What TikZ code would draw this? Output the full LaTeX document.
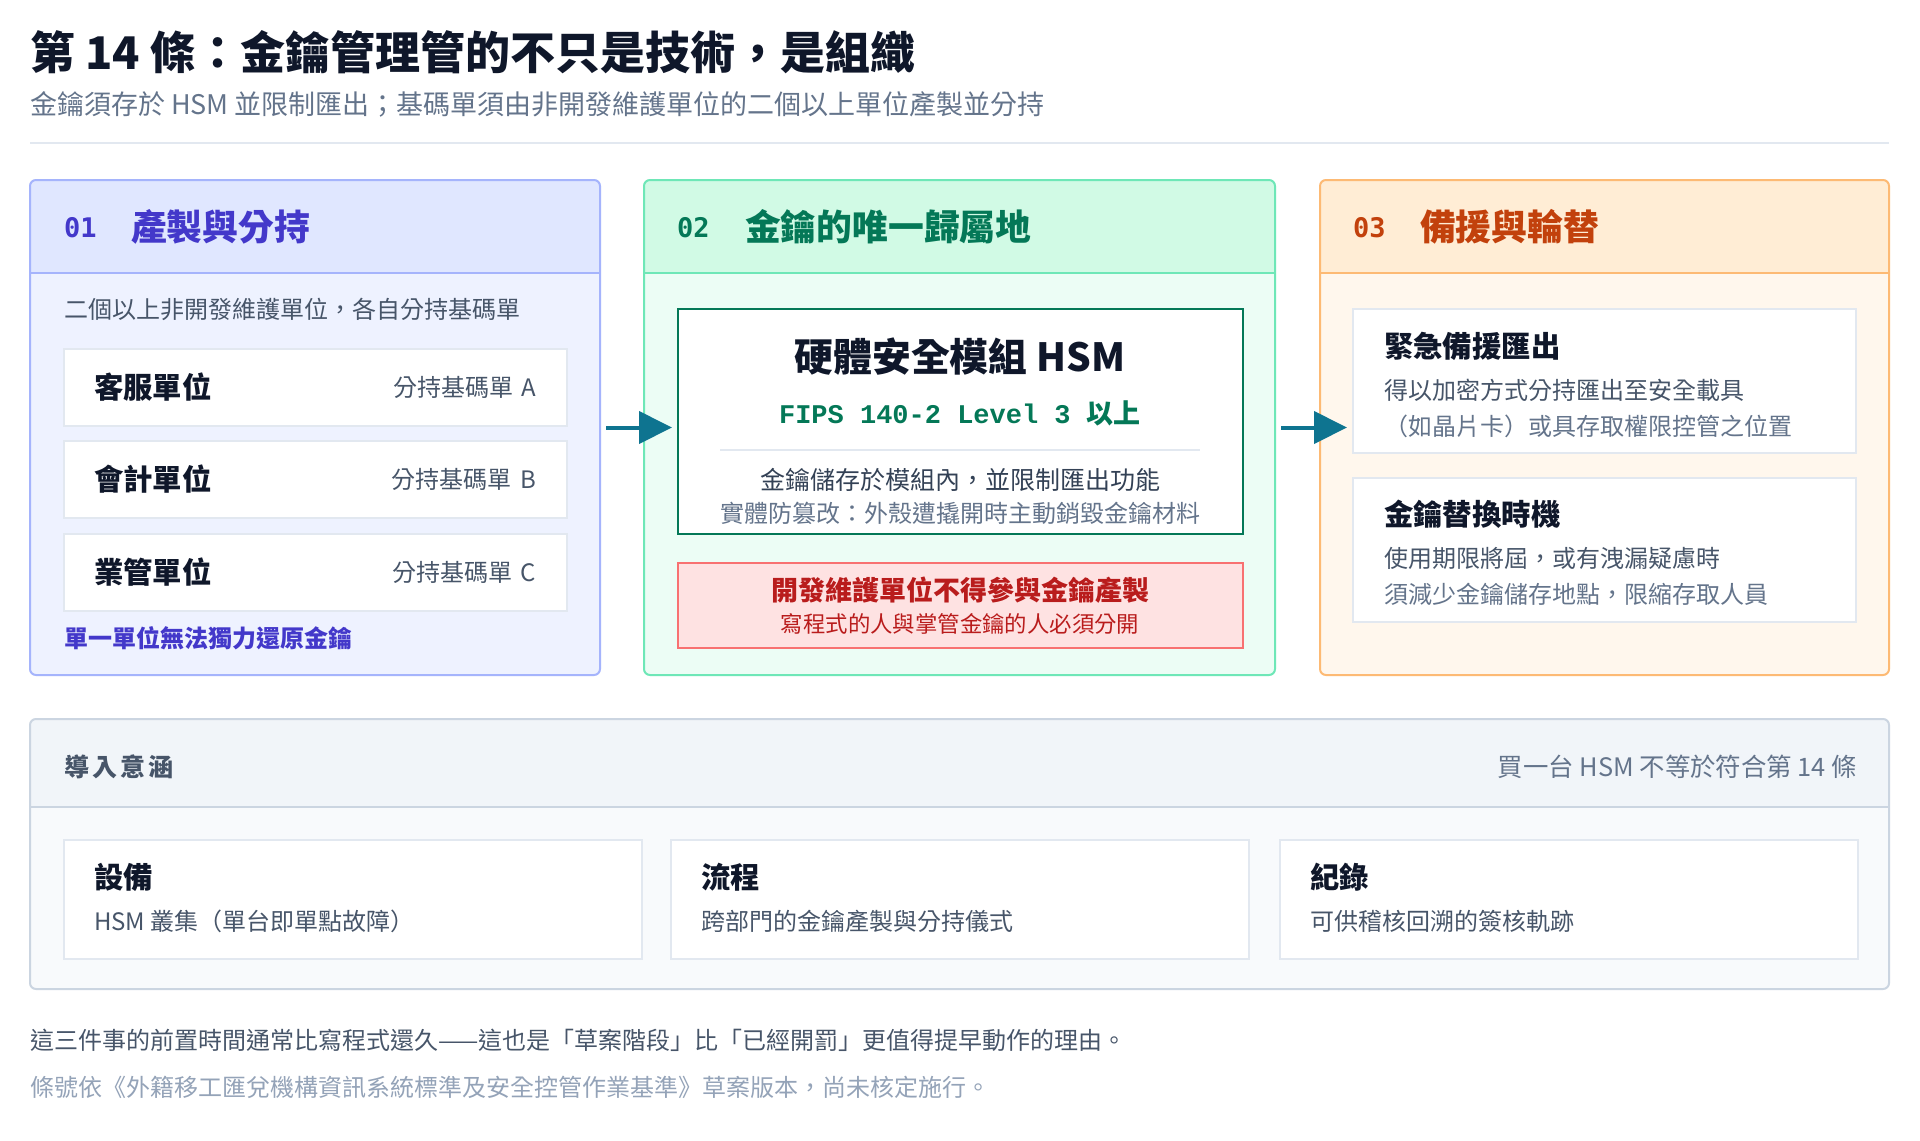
\documentclass[tikz,border=0pt]{standalone}
\usepackage{fontspec}
\setmainfont{Noto Sans CJK TC}
\newfontfamily\monoff{Liberation Mono}
\newfontfamily\numff{DejaVu Sans Mono}
\newfontfamily\spacedff{Noto Sans CJK TC}[LetterSpace=12]
\usetikzlibrary{arrows.meta,calc}
\newcommand\fz[1]{\fontsize{#1pt}{#1pt}\selectfont}
\definecolor{ink}{HTML}{0F172A}
\definecolor{slateA}{HTML}{475569}
\definecolor{slateB}{HTML}{64748B}
\definecolor{slateC}{HTML}{334155}
\definecolor{slateD}{HTML}{94A3B8}
\definecolor{ruleC}{HTML}{E2E8F0}
\definecolor{indH}{HTML}{E0E7FF}
\definecolor{indB}{HTML}{EEF2FF}
\definecolor{indL}{HTML}{A5B4FC}
\definecolor{indT}{HTML}{4338CA}
\definecolor{grnH}{HTML}{D1FAE5}
\definecolor{grnB}{HTML}{ECFDF5}
\definecolor{grnL}{HTML}{6EE7B7}
\definecolor{grnT}{HTML}{047857}
\definecolor{orgH}{HTML}{FFEDD5}
\definecolor{orgB}{HTML}{FFF7ED}
\definecolor{orgL}{HTML}{FDBA74}
\definecolor{orgT}{HTML}{C2410C}
\definecolor{redF}{HTML}{FEE2E2}
\definecolor{redL}{HTML}{F87171}
\definecolor{redT}{HTML}{B91C1C}
\definecolor{flowc}{HTML}{0E7490}
\definecolor{grayH}{HTML}{F1F5F9}
\definecolor{grayB}{HTML}{F8FAFC}
\definecolor{grayL}{HTML}{CBD5E1}
\newcommand\panelhead[4]{%
  \begin{scope}
    \clip[rounded corners=3pt] (#1.north west) rectangle (#1.south east);
    \fill[#3] (#1.north west) rectangle ([yshift=-#2]#1.north east);
  \end{scope}
  \draw[#4, line width=1pt] ([yshift=-#2]#1.north west) -- ([yshift=-#2]#1.north east);
  \draw[#4, line width=1pt, rounded corners=3pt] (#1.north west) rectangle (#1.south east);
}
\begin{document}
\begin{tikzpicture}[x=0.5pt,y=-0.5pt,
  txt/.style={anchor=west, inner sep=0pt, outer sep=0pt},
  rtxt/.style={anchor=east, inner sep=0pt, outer sep=0pt},
  ctxt/.style={anchor=center, inner sep=0pt, outer sep=0pt},
  panel/.style={rectangle, anchor=north west, inner sep=0pt, outer sep=0pt, rounded corners=3pt},
  card/.style={rectangle, anchor=north west, inner sep=0pt, outer sep=0pt, draw=ruleC, fill=white, line width=1pt},
  flow/.style={draw=flowc, line width=2pt, -{Triangle[length=16.5pt,width=16pt]}},
  num/.style={txt, font=\numff\bfseries\fz{13.5}},
  head/.style={txt, font=\bfseries\fz{17.9}},
  lbl/.style={txt, font=\bfseries\fz{14.7}, text=ink},
  body/.style={txt, font=\fz{12}, text=slateA},
  note/.style={txt, font=\fz{12}, text=slateB}
]
\useasboundingbox (0,0) rectangle (1920,1140);
\fill[white] (0,0) rectangle (1920,1140);

% title
\node[txt, font=\bfseries\fz{22.5}, text=ink] (title) at (30,52) {第 14 條：金鑰管理管的不只是技術，是組織};
\node[txt, font=\fz{13.5}, text=slateB] (subtitle) at (30,104) {金鑰須存於 HSM 並限制匯出；基碼單須由非開發維護單位的二個以上單位產製並分持};
\draw[ruleC, line width=1pt] (30,143) -- (1889,143);

% panels
\node[panel, fill=indB, minimum width=285pt, minimum height=247.5pt] (p1) at (30,180) {};
\panelhead{p1}{46.5pt}{indH}{indL}
\node[panel, fill=grnB, minimum width=315.5pt, minimum height=247.5pt] (p2) at (644,180) {};
\panelhead{p2}{46.5pt}{grnH}{grnL}
\node[panel, fill=orgB, minimum width=284.5pt, minimum height=247.5pt] (p3) at (1320,180) {};
\panelhead{p3}{46.5pt}{orgH}{orgL}

% panel 1
\node[num, text=indT] (n1) at (64,228) {01};
\node[head, text=indT] (h1) at (131,227) {產製與分持};
\node[body] (p1intro) at (64,309) {二個以上非開發維護單位，各自分持基碼單};
\node[card, minimum width=251.5pt, minimum height=38.5pt] (r1) at (64,349) {};
\node[card, minimum width=251.5pt, minimum height=38.5pt] (r2) at (64,441) {};
\node[card, minimum width=251.5pt, minimum height=38.5pt] (r3) at (64,534) {};
\node[lbl] (r1l) at ([xshift=15pt]r1.west) {客服單位};
\node[lbl] (r2l) at ([xshift=15pt]r2.west) {會計單位};
\node[lbl] (r3l) at ([xshift=15pt]r3.west) {業管單位};
\node[rtxt, font=\fz{12}, text=slateA] (r1r) at ([xshift=-15.5pt]r1.east) {分持基碼單\hspace{0.35em}A};
\node[rtxt, font=\fz{12}, text=slateA] (r2r) at ([xshift=-15.5pt]r2.east) {分持基碼單\hspace{0.35em}B};
\node[rtxt, font=\fz{12}, text=slateA] (r3r) at ([xshift=-15.5pt]r3.east) {分持基碼單\hspace{0.35em}C};
\node[txt, font=\bfseries\fz{12}, text=indT] (p1foot) at (64,638) {單一單位無法獨力還原金鑰};

% panel 2
\node[num, text=grnT] (n2) at (677,228) {02};
\node[head, text=grnT] (h2) at (745,227) {金鑰的唯一歸屬地};
\node[rectangle, anchor=north west, inner sep=0pt, outer sep=0pt, draw=grnT, line width=1.25pt, fill=white, minimum width=282.5pt, minimum height=112.5pt] (hsm) at (678,309) {};
\node[ctxt, font=\bfseries\fz{19.4}, text=ink] (hsmt) at (960,357) {硬體安全模組 HSM};
\node[ctxt, text=grnT] (fips) at (960,413) {{\monoff\bfseries\fz{13.5}FIPS 140-2 Level 3 }{\bfseries\fz{13.5}以上}};
\draw[ruleC, line width=0.75pt] (720,450) -- (1200,450);
\node[ctxt, font=\fz{12.5}, text=slateC] (hsm1) at (960,480) {金鑰儲存於模組內，並限制匯出功能};
\node[ctxt, font=\fz{12}, text=slateB] (hsm2) at (960,513) {實體防篡改：外殼遭撬開時主動銷毀金鑰材料};
\node[rectangle, anchor=north west, inner sep=0pt, outer sep=0pt, draw=redL, line width=1pt, fill=redF, minimum width=282.5pt, minimum height=42.5pt] (warn) at (678,563) {};
\node[ctxt, font=\bfseries\fz{13.5}, text=redT] (warn1) at (960,590) {開發維護單位不得參與金鑰產製};
\node[ctxt, font=\fz{11.2}, text=redT] (warn2) at (960,624) {寫程式的人與掌管金鑰的人必須分開};

% panel 3
\node[num, text=orgT] (n3) at (1353,228) {03};
\node[head, text=orgT] (h3) at (1420,227) {備援與輪替};
\node[card, minimum width=251.5pt, minimum height=72pt] (c1) at (1353,309) {};
\node[card, minimum width=251.5pt, minimum height=72pt] (c2) at (1353,478) {};
\node[lbl] (c1t) at (1384,346) {緊急備援匯出};
\node[body] (c1a) at (1384,390) {得以加密方式分持匯出至安全載具};
\node[note] (c1b) at (1384,426) {（如晶片卡）或具存取權限控管之位置};
\node[lbl] (c2t) at (1384,514) {金鑰替換時機};
\node[body] (c2a) at (1384,558) {使用期限將屆，或有洩漏疑慮時};
\node[note] (c2b) at (1384,594) {須減少金鑰儲存地點，限縮存取人員};

% arrows
\draw[flow] ($(p1.east)+(3pt,0)$) -- ($(hsm.west |- p1.east)+(-3pt,0)$);
\draw[flow] ($(p2.east)+(3pt,0)$) -- ($(c1.west |- p2.east)+(-3pt,0)$);

% bottom panel
\node[panel, fill=grayB, minimum width=929.5pt, minimum height=135pt] (bp) at (30,719) {};
\panelhead{bp}{44pt}{grayH}{grayL}
\node[txt, font=\spacedff\bfseries\fz{12.5}, text=slateA] (bph) at (64,767) {導入意涵};
\node[rtxt, font=\fz{12.7}, text=slateB] (bpr) at (1857,767) {買一台 HSM 不等於符合第 14 條};
\node[card, minimum width=289pt, minimum height=59.5pt] (b1) at (64,840) {};
\node[card, minimum width=289pt, minimum height=59.5pt] (b2) at (671,840) {};
\node[card, minimum width=289pt, minimum height=59.5pt] (b3) at (1280,840) {};
\node[lbl] (b1t) at (94,877) {設備};
\node[body] (b1d) at (94,921) {HSM 叢集（單台即單點故障）};
\node[lbl] (b2t) at (701,877) {流程};
\node[body] (b2d) at (701,921) {跨部門的金鑰產製與分持儀式};
\node[lbl] (b3t) at (1310,877) {紀錄};
\node[body] (b3d) at (1310,921) {可供稽核回溯的簽核軌跡};

% footer
\node[txt, font=\fz{12}, text=slateA] (foot1) at (30,1040) {這三件事的前置時間通常比寫程式還久——這也是「草案階段」比「已經開罰」更值得提早動作的理由。};
\node[txt, font=\fz{12}, text=slateD] (foot2) at (30,1087) {條號依《外籍移工匯兌機構資訊系統標準及安全控管作業基準》草案版本，尚未核定施行。};
\end{tikzpicture}
\end{document}
